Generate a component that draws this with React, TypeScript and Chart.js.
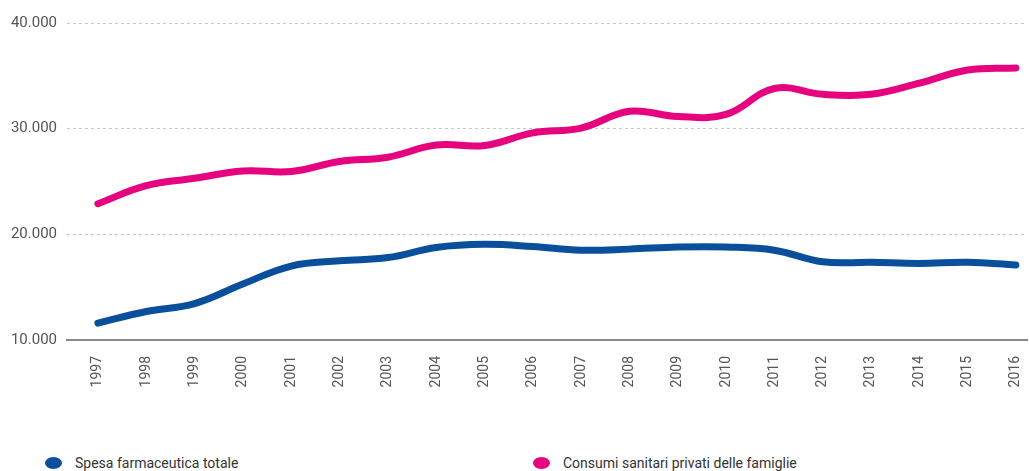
import React, { useEffect, useRef } from "react";
import { Chart, registerables } from "chart.js";

Chart.register(...registerables);

const years = ["1997","1998","1999","2000","2001","2002","2003","2004","2005","2006","2007","2008","2009","2010","2011","2012","2013","2014","2015","2016"];
const spesaFarmaceutica = [11600,12700,13450,15300,17000,17500,17800,18750,19050,18850,18500,18600,18800,18800,18500,17400,17350,17250,17350,17100];
const consumiSanitari = [22900,24600,25300,26000,25950,26900,27300,28450,28400,29600,30050,31650,31150,31350,33800,33250,33250,34300,35550,35750];
const yTicks = [10000, 20000, 30000, 40000];

const BLUE = "#0a4f9c";
const PINK = "#e5037f";
const FONT = "Roboto, 'Noto Sans', sans-serif";

export default function App() {
  const ref = useRef<HTMLCanvasElement | null>(null);
  useEffect(() => {
    if (!ref.current) return;
    const chart = new Chart(ref.current, {
      type: "line",
      data: {
        datasets: [
          {
            label: "Spesa farmaceutica totale",
            data: spesaFarmaceutica.map((v, i) => ({ x: i, y: v })),
            borderColor: BLUE,
            backgroundColor: BLUE,
            borderWidth: 7,
            pointRadius: 0,
            tension: 0.4,
            borderCapStyle: "round",
            clip: 10,
          },
          {
            label: "Consumi sanitari privati delle famiglie",
            data: consumiSanitari.map((v, i) => ({ x: i, y: v })),
            borderColor: PINK,
            backgroundColor: PINK,
            borderWidth: 7,
            pointRadius: 0,
            tension: 0.4,
            borderCapStyle: "round",
            clip: 10,
          },
        ],
      },
      options: {
        responsive: false,
        animation: false,
        layout: { padding: { top: 23, right: 2, bottom: 10, left: 0 } },
        plugins: { legend: { display: false }, tooltip: { enabled: false } },
        scales: {
          x: {
            type: "linear",
            min: -0.64,
            max: 19.23,
            grid: { display: false },
            border: { display: true, color: "#8a8a8a", width: 2 },
            afterBuildTicks: (s: any) => {
              s.ticks = years.map((_, i) => ({ value: i }));
            },
            afterFit: (s: any) => {
              s.height = 60;
              s.paddingLeft = 0;
              s.paddingRight = 0;
            },
            ticks: {
              autoSkip: false,
              minRotation: 90,
              maxRotation: 90,
              padding: 8,
              color: "#555",
              font: { family: FONT, size: 14 },
              callback: (v: any) => years[v] ?? "",
            },
          },
          y: {
            min: 10000,
            max: 40000,
            afterBuildTicks: (s: any) => {
              s.ticks = yTicks.map((v) => ({ value: v }));
            },
            afterFit: (s: any) => {
              s.width = 67;
            },
            grid: {
              color: (ctx: any) => (ctx.tick && ctx.tick.value === 10000 ? "rgba(0,0,0,0)" : "#c8c8c8"),
              drawTicks: false,
            },
            border: { display: false, dash: [3, 3] },
            ticks: {
              padding: 10,
              color: "#555",
              font: { family: FONT, size: 15 },
              callback: (v: any) => Number(v).toLocaleString("it-IT"),
            },
          },
        },
      },
    });
    return () => chart.destroy();
  }, []);

  const legendItem = (color: string, text: string, left: number) => (
    <div style={{ position: "absolute", left, top: 455, display: "flex", alignItems: "center", fontFamily: FONT, fontSize: 14, color: "#333", whiteSpace: "nowrap" }}>
      <span style={{ display: "inline-block", width: 17, height: 12, borderRadius: "50%", background: color, marginRight: 13 }} />
      <span>{text}</span>
    </div>
  );

  return (
    <div style={{ position: "fixed", left: 0, top: 0, width: 1029, height: 471, background: "#fff" }}>
      <canvas ref={ref} width={1029} height={410} style={{ position: "absolute", left: 0, top: 0 }} />
      {legendItem(BLUE, "Spesa farmaceutica totale", 45)}
      {legendItem(PINK, "Consumi sanitari privati delle famiglie", 533)}
    </div>
  );
}
